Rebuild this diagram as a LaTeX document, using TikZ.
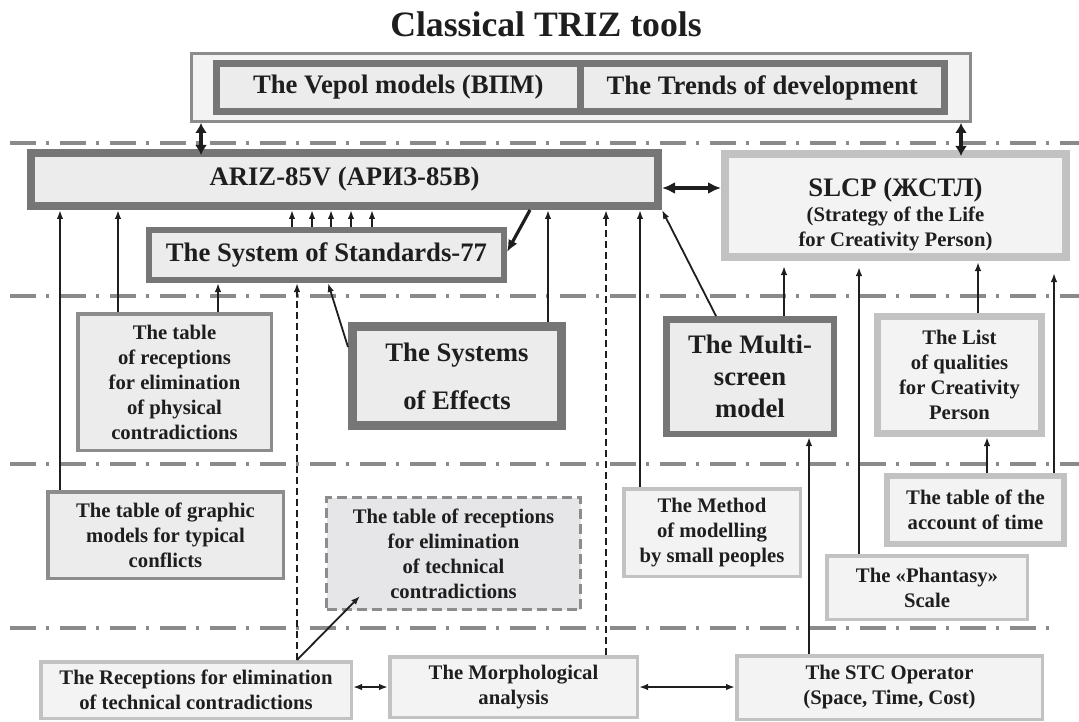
\documentclass[tikz,border=0pt]{standalone}
\usepackage{fontspec}
\setmainfont{Liberation Serif}
\usetikzlibrary{arrows.meta,calc}

\definecolor{ink}{HTML}{1E1E1E}
\definecolor{darkframe}{HTML}{767676}
\definecolor{midframe}{HTML}{8C8C8C}
\definecolor{lightframe}{HTML}{C2C2C2}
\definecolor{boxfill}{HTML}{ECECEC}
\definecolor{palefill}{HTML}{F3F3F3}
\definecolor{techfill}{HTML}{E6E6E8}
\definecolor{zoneline}{HTML}{8A8A8A}

\newcommand{\bigtxt}{\fontsize{26.7}{32}\selectfont\bfseries}
\newcommand{\smalltxt}{\fontsize{20.7}{25}\selectfont\bfseries}

\begin{document}
\begin{tikzpicture}[x=1pt,y=-1pt,
  box/.style={rectangle, align=center, text=ink, inner sep=0pt},
  heavy/.style={box, draw=darkframe, fill=boxfill, font=\bigtxt},
  pale/.style={box, draw=lightframe, fill=palefill, line width=3.5pt, font=\smalltxt},
  plainbox/.style={box, draw=midframe, fill=boxfill, line width=3.5pt, font=\smalltxt},
  zone/.style={zoneline, line width=4pt, dash pattern=on 26pt off 10pt on 3pt off 11pt},
  link/.style={ink, line width=1.8pt, -{Latex[length=9pt,width=6.5pt]}},
  dlink/.style={link, dash pattern=on 7pt off 4pt},
  linkboth/.style={ink, line width=1.8pt, {Latex[length=9pt,width=6.5pt]}-{Latex[length=9pt,width=6.5pt]}},
  heavyboth/.style={ink, line width=3.4pt, {Latex[length=13pt,width=12pt]}-{Latex[length=13pt,width=12pt]}},
  shortboth/.style={ink, line width=3.6pt, {Latex[length=10pt,width=12pt]}-{Latex[length=10pt,width=12pt]}, shorten >=-6pt},
  heavyone/.style={ink, line width=3.2pt, -{Latex[length=12pt,width=10pt]}},
]
\useasboundingbox (0,0) rectangle (1079,722);

% zone separators
\foreach \y/\xe in {143/1079, 296/1079, 464/1079, 628/1058}
  \draw[zone] (10,\y) -- (\xe,\y);

% heading
\node[font=\fontsize{35.7}{40}\selectfont\bfseries, text=ink, anchor=base] (title) at (546,37) {Classical TRIZ tools};

% top frame with the two model boxes
\node[box, draw=midframe, fill=palefill, line width=3pt, minimum width=779pt, minimum height=68pt] (frame) at (581,87.5) {};
\node[heavy, line width=7pt, minimum width=363.5pt, minimum height=48pt] (vepol) at (398.25,87.5) {The Vepol models (ВПМ)};
\node[heavy, line width=7pt, minimum width=364.5pt, minimum height=48pt] (trends) at (762.25,87.5) {The Trends of development};

% main tools
\node[heavy, line width=8pt, minimum width=627pt, minimum height=53pt] (ariz) at (344.5,179.5) {ARIZ-85V (АРИЗ-85В)};
\node[heavy, draw=lightframe, fill=palefill, font=\smalltxt, line width=8pt, minimum width=341pt, minimum height=103pt] (slcp) at (895.5,205.5)
  {{\bigtxt\rule{0pt}{36pt}SLCP (ЖСТЛ)}\\(Strategy of the Life\\for Creativity Person)};
\node[heavy, line width=6pt, minimum width=355pt, minimum height=50pt] (stand) at (326.5,255) {The System of Standards-77};

% second band
\node[plainbox, minimum width=193.5pt, minimum height=136.5pt] (phys) at (174.5,382)
  {The table\\of receptions\\for elimination\\of physical\\contradictions};
\node[heavy, line width=9pt, minimum width=209pt, minimum height=99pt, font=\fontsize{26.7}{48}\selectfont\bfseries] (eff) at (457,376) {The Systems\\of Effects};
\node[heavy, line width=6.5pt, minimum width=167.5pt, minimum height=114.5pt] (multi) at (750,376.5) {The Multi-\\screen\\model};
\node[pale, line width=7pt, minimum width=164pt, minimum height=117pt] (list) at (959.5,375)
  {The List\\of qualities\\for Creativity\\Person};

% third band
\node[plainbox, minimum width=235.5pt, minimum height=86.5pt] (graphic) at (165.5,535)
  {The table of graphic\\models for typical\\conflicts};
\node[box, draw=midframe, fill=techfill, line width=3pt, dash pattern=on 10pt off 5pt, font=\smalltxt, minimum width=254pt, minimum height=112pt] (tech) at (453.5,553.5)
  {The table of receptions\\for elimination\\of technical\\contradictions};
\node[pale, minimum width=176.5pt, minimum height=87.5pt] (method) at (712,532.5)
  {The Method\\of modelling\\by small peoples};
\node[pale, line width=6pt, minimum width=177pt, minimum height=68pt] (account) at (975.5,510)
  {The table of the\\account of time};
\node[pale, minimum width=200.5pt, minimum height=63.5pt] (phantasy) at (927,587.5)
  {The «Phantasy»\\Scale};

% bottom band
\node[pale, minimum width=310.5pt, minimum height=56.5pt] (rec) at (196,690)
  {The Receptions for elimination\\of technical contradictions};
\node[pale, minimum width=247.5pt, minimum height=60.5pt] (morph) at (513.5,687)
  {The Morphological\\analysis};
\node[pale, minimum width=305.5pt, minimum height=63.5pt] (stc) at (889.5,687.5)
  {The STC Operator\\(Space, Time, Cost)};

% heavy links
\draw[shortboth] (frame.south -| 201,0) -- (ariz.north -| 201,0);
\draw[shortboth] (frame.south -| 961,0) -- (slcp.north -| 961,0);
\draw[heavyboth] (ariz.east |- 0,188) -- (slcp.west |- 0,188);
\draw[heavyone] (ariz.south -| 530,0) -- (stand.east |- 0,252);

% links into ARIZ and the standards
\foreach \x in {292,312,331,351,372}
  \draw[link] (stand.north -| \x,0) -- (ariz.south -| \x,0);
\draw[link] (graphic.north -| 60,0) -- (ariz.south -| 60,0);
\draw[link] (phys.north -| 118,0) -- (ariz.south -| 118,0);
\draw[link] (phys.north -| 218,0) -- (stand.south -| 218,0);
\draw[dlink] (rec.north -| 297,0) -- (stand.south -| 297,0);
\draw[link] (eff.west |- 0,347) -- (stand.south -| 328,0);
\draw[link] (eff.north -| 548,0) -- (ariz.south -| 548,0);
\draw[dlink] (morph.north -| 606,0) -- (ariz.south -| 606,0);
\draw[link] (method.north -| 640,0) -- (ariz.south -| 640,0);
\draw[link] (multi.north -| 716,0) -- (ariz.south east);
\draw[link] (rec.north -| 297,0) -- ([shift={(35,-15)}]tech.south west);

% links into SLCP
\draw[link, shorten >=5pt] (multi.north -| 784,0) -- (slcp.south -| 784,0);
\draw[link, shorten >=6pt] (phantasy.north -| 859,0) -- (slcp.south -| 859,0);
\draw[link, shorten >=1pt] (list.north -| 978,0) -- (slcp.south -| 978,0);
\draw[link, shorten >=12pt] (account.north -| 1054,0) -- (slcp.south -| 1054,0);
\draw[link] (account.north -| 987,0) -- (list.south -| 987,0);
\draw[link] (stc.north -| 809,0) -- (multi.south -| 809,0);

% bottom row exchanges
\draw[linkboth] (rec.east |- 0,687) -- (morph.west |- 0,687);
\draw[linkboth] (morph.east |- 0,687) -- (stc.west |- 0,687);
\end{tikzpicture}
\end{document}
